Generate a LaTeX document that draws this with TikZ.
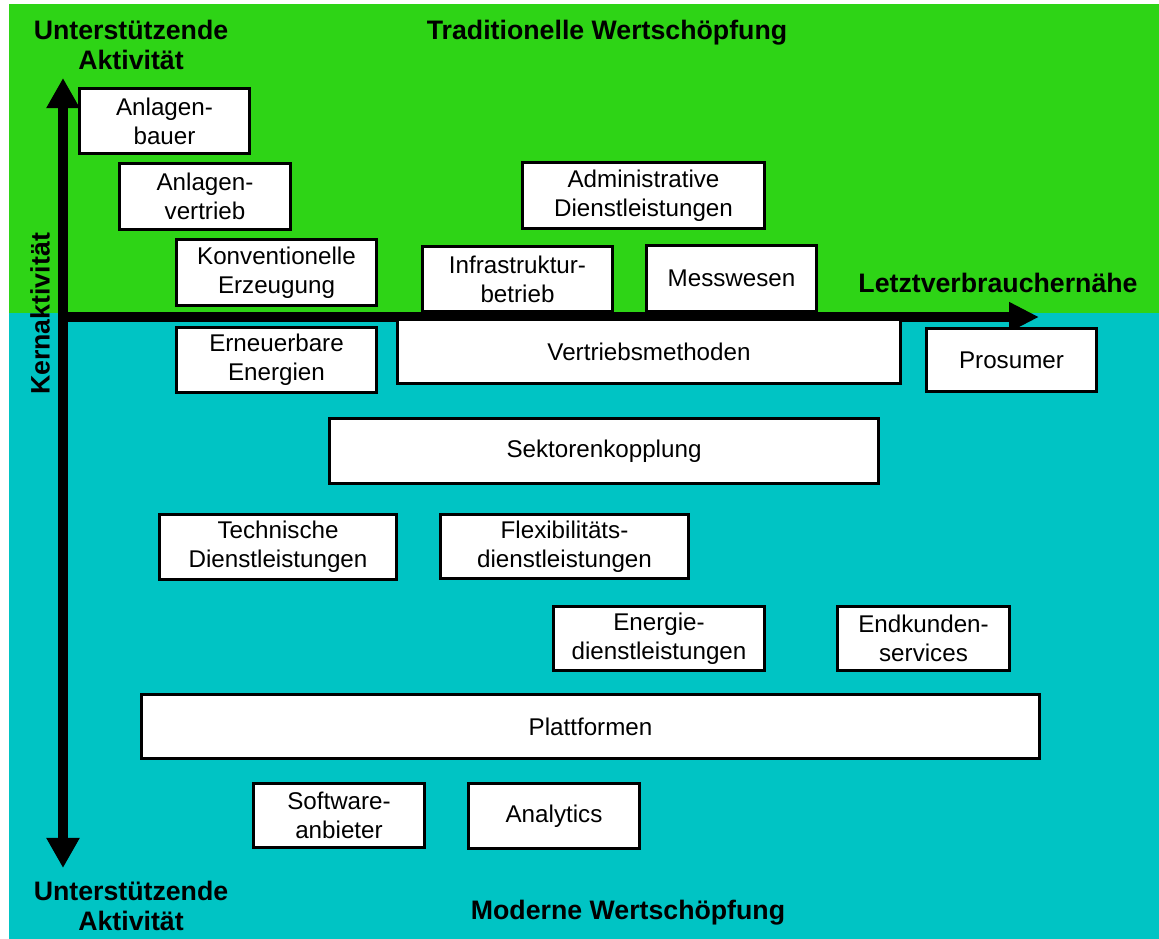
\documentclass[tikz,border=0pt]{standalone}
\usepackage{fontspec}
\setmainfont{Liberation Sans}
\usetikzlibrary{arrows.meta}

\definecolor{traditionell}{RGB}{46,212,22}
\definecolor{modern}{RGB}{0,196,196}

\tikzset{
  kasten/.style 2 args={draw=black, fill=white, line width=3.8*0.025cm,
    minimum width=#1*0.025cm, minimum height=#2*0.025cm, align=center,
    inner sep=1pt, font=\fontsize{17.2}{20.6}\selectfont},
  titel/.style={align=center, font=\fontsize{19}{21.3}\selectfont\bfseries},
  achse/.style={line width=10*0.025cm},
}

\begin{document}
\begin{tikzpicture}[x=0.025cm, y=-0.025cm]
            \useasboundingbox (0,0) rectangle (1159,939);
            % Hintergrund
            \fill[traditionell] (9,4) rectangle (1159,313);
            \fill[modern] (9,313) rectangle (1159,939);

            % Achsen
            \coordinate (oben) at (63,78);
            \coordinate (unten) at (63,868);
            \coordinate (links) at (58,317);
            \coordinate (rechts) at (1039,317);
            \draw[achse, {Triangle[length=0.75cm, width=0.78cm]}-{Triangle[length=0.75cm, width=0.78cm]}] (oben) -- (unten);
            \draw[achse, -{Triangle[length=0.75cm, width=0.7cm]}] (links) -- (rechts);

            % Beschriftungen
            \node at (131,45) (ua1) [titel] {Unterstützende\\Aktivität};
            \node at (607,33) (trad) [titel] {Traditionelle Wertschöpfung};
            \node at (998,283) (naehe) [titel] {Letztverbrauchernähe};
            \node at (40,314) (kern) [titel, rotate=90] {Kernaktivität};
            \node at (131,906) (ua2) [titel] {Unterstützende\\Aktivität};
            \node at (628,913) (mod) [titel] {Moderne Wertschöpfung};

            % Kaesten
            \node at (164.5,121) (bauer) [kasten={170}{65}] {Anlagen-\\bauer};
            \node at (205,196.5) (vertrieb) [kasten={171}{66}] {Anlagen-\\vertrieb};
            \node at (276.5,272.5) (konv) [kasten={200}{66}] {Konventionelle\\Erzeugung};
            \node at (643.5,195.5) (admin) [kasten={242}{66}] {Administrative\\Dienstleistungen};
            \node at (517.5,279) (infra) [kasten={190}{65}] {Infrastruktur-\\betrieb};
            \node at (731.5,278.5) (mess) [kasten={170}{66}] {Messwesen};
            \node at (649,351.5) (methoden) [kasten={503}{64}] {Vertriebsmethoden};
            \node at (1011.5,360) (prosumer) [kasten={170}{63}] {Prosumer};
            \node at (276.5,360) (erneuerbar) [kasten={200}{65}] {Erneuerbare\\Energien};
            \node at (604,451) (sektor) [kasten={549}{65}] {Sektorenkopplung};
            \node at (278,547) (technisch) [kasten={237}{65}] {Technische\\Dienstleistungen};
            \node at (564.5,546.5) (flex) [kasten={248}{64}] {Flexibilitäts-\\dienstleistungen};
            \node at (659,638.5) (energie) [kasten={211}{64}] {Energie-\\dienstleistungen};
            \node at (923.5,638.5) (endkunden) [kasten={172}{64}] {Endkunden-\\services};
            \node at (590.5,726.5) (plattform) [kasten={898}{64}] {Plattformen};
            \node at (339,815.5) (software) [kasten={171}{64}] {Software-\\anbieter};
            \node at (554,816) (analytics) [kasten={171}{65}] {Analytics};
        \end{tikzpicture}
\end{document}
